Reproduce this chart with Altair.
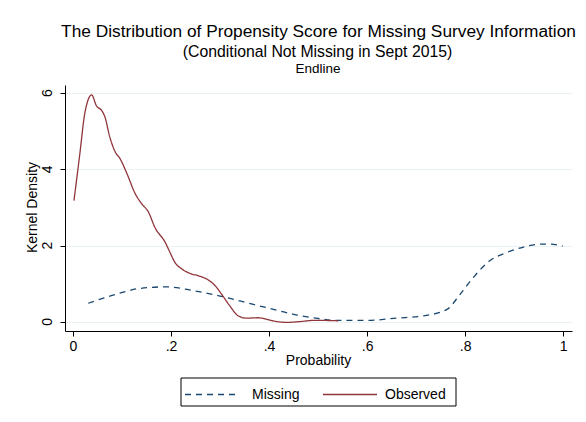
import altair as alt
import pandas as pd

# Observed (red solid) kernel density
obs_p = [0.002, 0.014, 0.024, 0.038, 0.048, 0.058, 0.065, 0.075, 0.086, 0.096,
         0.11, 0.127, 0.14, 0.154, 0.167, 0.188, 0.198, 0.208, 0.222, 0.239,
         0.256, 0.276, 0.29, 0.303, 0.32, 0.337, 0.354, 0.378, 0.395, 0.416,
         0.436, 0.463, 0.49, 0.51, 0.541]
obs_d = [3.18, 4.41, 5.46, 5.95, 5.66, 5.55, 5.38, 4.85, 4.46, 4.28,
         3.89, 3.36, 3.10, 2.88, 2.48, 2.09, 1.82, 1.56, 1.39, 1.27,
         1.21, 1.10, 0.95, 0.73, 0.42, 0.16, 0.10, 0.11, 0.07, 0.01,
         -0.01, 0.01, 0.04, 0.04, 0.03]

# Missing (blue dashed) kernel density
mis_p = [0.031, 0.089, 0.137, 0.191, 0.246, 0.30, 0.368, 0.422, 0.45, 0.49,
         0.538, 0.60, 0.66, 0.715, 0.763, 0.79, 0.817, 0.851, 0.885, 0.919,
         0.953, 0.973, 0.999]
mis_d = [0.49, 0.73, 0.88, 0.92, 0.82, 0.68, 0.46, 0.29, 0.20, 0.11,
         0.04, 0.04, 0.10, 0.16, 0.33, 0.73, 1.17, 1.61, 1.82, 1.96,
         2.04, 2.04, 1.99]

series = ["Missing", "Observed"]
colors = ["#1a476f", "#90353b"]
dashes = [[6, 5], [1, 0]]

x_ticks = [0, 0.2, 0.4, 0.6, 0.8, 1]
y_ticks = [0, 2, 4, 6]

df = pd.concat([
    pd.DataFrame({"series": "Missing", "p": mis_p, "d": mis_d, "o": range(len(mis_p))}),
    pd.DataFrame({"series": "Observed", "p": obs_p, "d": obs_d, "o": range(len(obs_p))}),
])

FONT = "Liberation Sans"
color_scale = alt.Scale(domain=series, range=colors)
dash_scale = alt.Scale(domain=series, range=dashes)
y_scale = alt.Scale(domain=[-0.237, 6.21], nice=False, zero=False)

lines = alt.Chart(df).mark_line(strokeWidth=1.3, interpolate="monotone").encode(
    x=alt.X("p:Q", scale=alt.Scale(domain=[-0.0163, 1.018], nice=False, zero=False),
            axis=alt.Axis(values=x_ticks, title="Probability", grid=False,
                          labelExpr="datum.value == 0 ? '0' : datum.value == 1 ? '1' : '.' + round(datum.value * 10)",
                          titleX=253, titleY=29, titleBaseline="middle", titleAlign="center",
                          labelPadding=3)),
    y=alt.Y("d:Q", scale=y_scale,
            axis=alt.Axis(values=y_ticks, title="Kernel Density", grid=True, labels=False,
                          titleAngle=270, titleX=-33, titleY=122, titleAlign="center",
                          titleBaseline="middle")),
    color=alt.Color("series:N", scale=color_scale, legend=None),
    strokeDash=alt.StrokeDash("series:N", scale=dash_scale, legend=None),
    order="o:Q",
)

# Rotated y tick labels (Stata style)
ylab = pd.DataFrame({"d": y_ticks, "s": [str(v) for v in y_ticks]})
ylabels = alt.Chart(ylab).mark_text(font=FONT, fontSize=14, angle=270, align="center",
                                    baseline="middle", color="black").encode(
    y=alt.Y("d:Q", scale=y_scale, axis=None), x=alt.value(-17), text="s:N")

# Legend (drawn manually, Stata style)
leg = pd.DataFrame({"series": series, "x1": [120, 258], "x2": [173, 312], "tx": [187, 320]})
leg_box = alt.Chart(leg.iloc[[0]]).mark_rect(fill="white", stroke="black", strokeWidth=1).encode(
    x=alt.value(116), x2=alt.value(391), y=alt.value(293), y2=alt.value(321))
leg_lines = alt.Chart(leg).mark_rule(strokeWidth=1.3).encode(
    x=alt.X("x1:Q", scale=None), x2="x2:Q", y=alt.value(309.5),
    color=alt.Color("series:N", scale=color_scale, legend=None),
    strokeDash=alt.StrokeDash("series:N", scale=dash_scale, legend=None))
leg_text = alt.Chart(leg).mark_text(font=FONT, fontSize=14, align="left", baseline="middle",
                                    color="black").encode(
    x=alt.X("tx:Q", scale=None), y=alt.value(310), text="series:N")

titles = pd.DataFrame({
    "t": ["The Distribution of Propensity Score for Missing Survey Information",
          "(Conditional Not Missing in Sept 2015)", "Endline"],
})

t1 = alt.Chart(titles.iloc[[0]]).mark_text(font=FONT, fontSize=17.3, color="black").encode(
    text="t:N", x=alt.value(253.5), y=alt.value(-53))
t2 = alt.Chart(titles.iloc[[1]]).mark_text(font=FONT, fontSize=15.8, color="black").encode(
    text="t:N", x=alt.value(252.5), y=alt.value(-33))
t3 = alt.Chart(titles.iloc[[2]]).mark_text(font=FONT, fontSize=13.5, color="black").encode(
    text="t:N", x=alt.value(253), y=alt.value(-16))

chart = alt.layer(lines, ylabels, leg_box, leg_lines, leg_text, t1, t2, t3).resolve_axis(
    y="independent"
).properties(
    width=507, height=246,
    background="white",
    autosize=alt.AutoSizeParams(type="none"),
    padding={"left": 57, "top": 77, "right": 6, "bottom": 83},
).configure_view(stroke=None).configure_axis(
    labelFont=FONT, titleFont=FONT, labelFontSize=14, titleFontSize=14,
    labelColor="black", titleColor="black", titleFontWeight="normal",
    domainColor="black", tickColor="black", tickSize=5,
    gridColor="#eaf2f3", gridWidth=1, domainWidth=1,
)

chart.save("out.html", embed_options={"renderer": "svg", "actions": False})
